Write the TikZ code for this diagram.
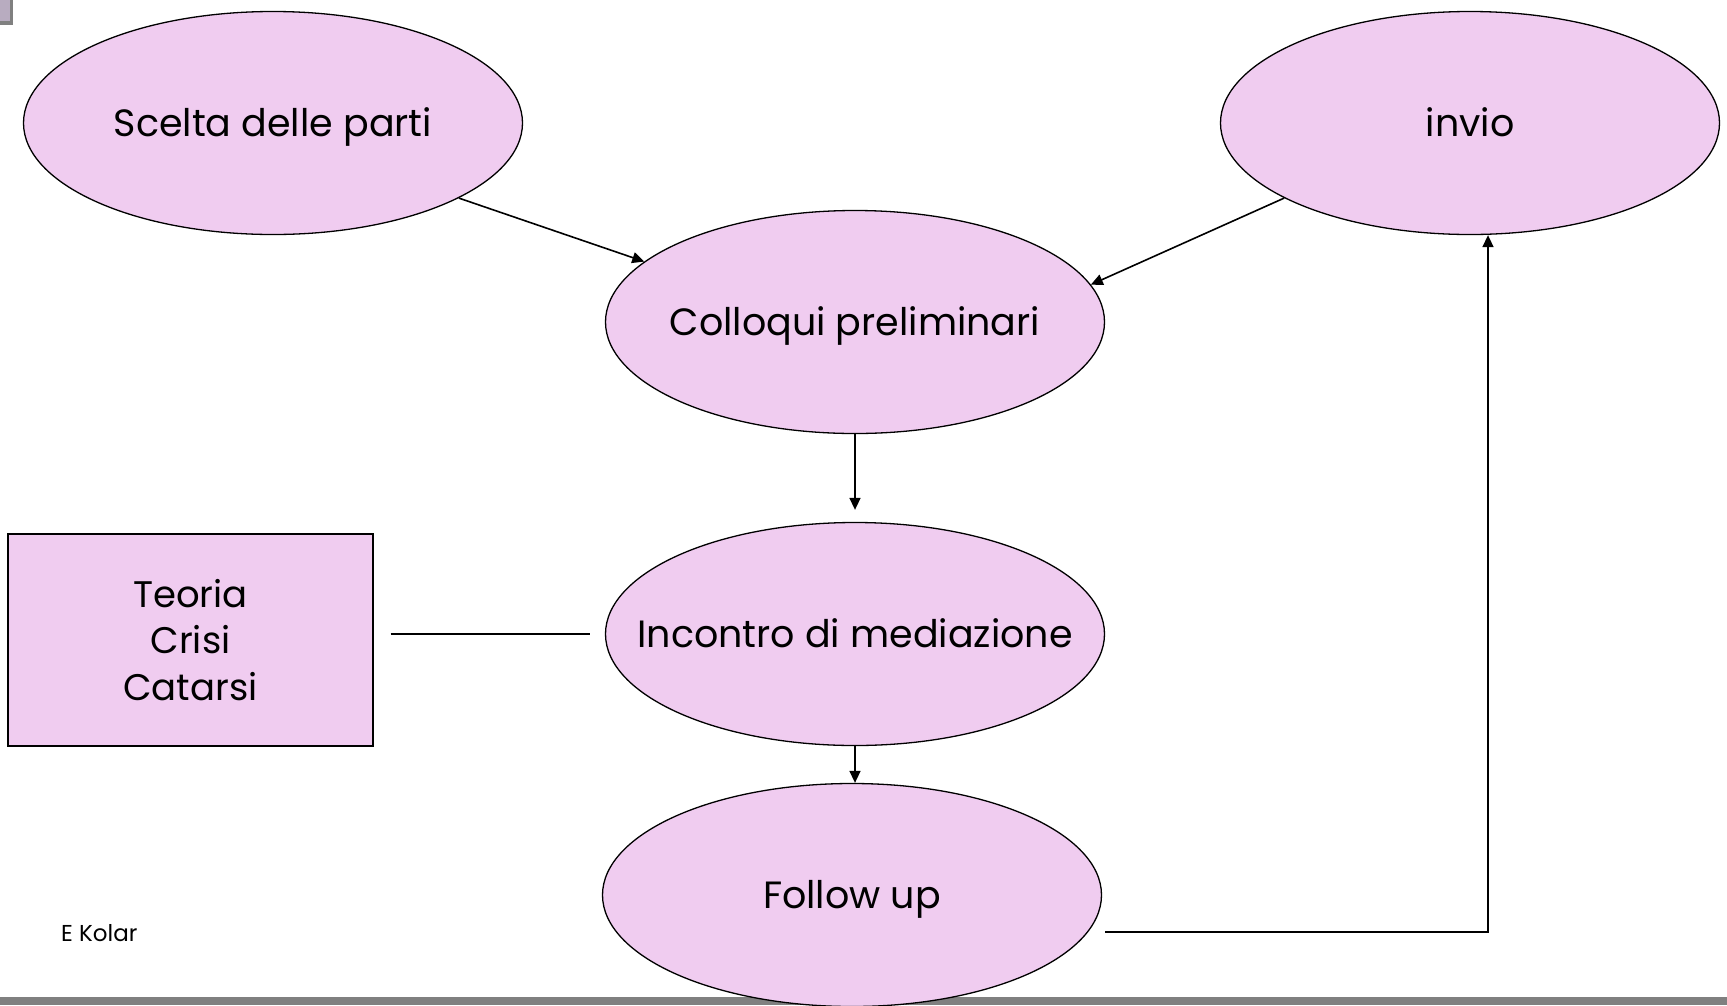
\documentclass[tikz,border=0pt]{standalone}
\usepackage{fontspec}
\setmainfont{Poppins}
\usetikzlibrary{shapes.geometric,arrows.meta,calc}
\definecolor{pinkfill}{RGB}{240,204,240}
\definecolor{boxfill}{RGB}{184,172,192}
\newcommand{\ovtxt}[1]{\makebox[0pt]{#1}}
\tikzset{
  oval/.style={ellipse,draw=black,line width=1.3pt,fill=pinkfill,minimum width=499pt,minimum height=223pt,inner sep=0pt,text height=27pt,text depth=0pt,font=\fontsize{38}{45}\selectfont},
  sqbox/.style={rectangle,draw=black,line width=1.3pt,fill=pinkfill,minimum width=365pt,minimum height=212pt,inner sep=0pt,align=center,font=\fontsize{37}{46.5}\selectfont},
  arr/.style={line width=1.6pt,-{Triangle[length=12pt,width=11pt]}},
  plain/.style={line width=1.8pt}
}
\begin{document}
\begin{tikzpicture}[x=1pt,y=-1pt]
\useasboundingbox (0,0) rectangle (1727,1005);
\fill[white] (0,0) rectangle (1727,1005);
% top-left marker
\fill[black!50] (0,0) rectangle (13,25);
\fill[boxfill] (0,0) rectangle (10,21);
% bottom bar
\fill[black!50] (0,997) rectangle (1727,1005);
\node (scelta) [oval] at (273,123) {\ovtxt{Scelta delle parti}};
\node (invio) [oval] at (1470,123) {\ovtxt{invio}};
\node (colloqui) [oval] at (855,322) {\ovtxt{Colloqui preliminari}};
\node (incontro) [oval] at (855,634) {\ovtxt{Incontro di mediazione}};
\node (follow) [oval] at (852,895) {\ovtxt{Follow up}};
\node (teoria) [sqbox] at (190.5,640) {Teoria\\Crisi\\Catarsi};
\node (kolar) [anchor=base west,font=\fontsize{23}{27}\selectfont,inner sep=0pt] at (61,941) {E Kolar};
% connectors
\draw[arr] (scelta.-22.3) -- (colloqui.164);
\draw[arr] (invio.202.4) -- (colloqui.9);
\draw[arr,shorten >=12pt] (colloqui.south) -- (incontro.north);
\draw[arr] (incontro.south) -- (incontro.south |- follow.north);
\draw[plain,shorten <=17pt,shorten >=15pt] (teoria.east |- incontro.west) -- (incontro.west);
\coordinate (fstart) at ([xshift=253pt,yshift=-37pt]follow.center);
\draw[arr] (fstart) -| ([xshift=18pt]invio.south);
\end{tikzpicture}
\end{document}
